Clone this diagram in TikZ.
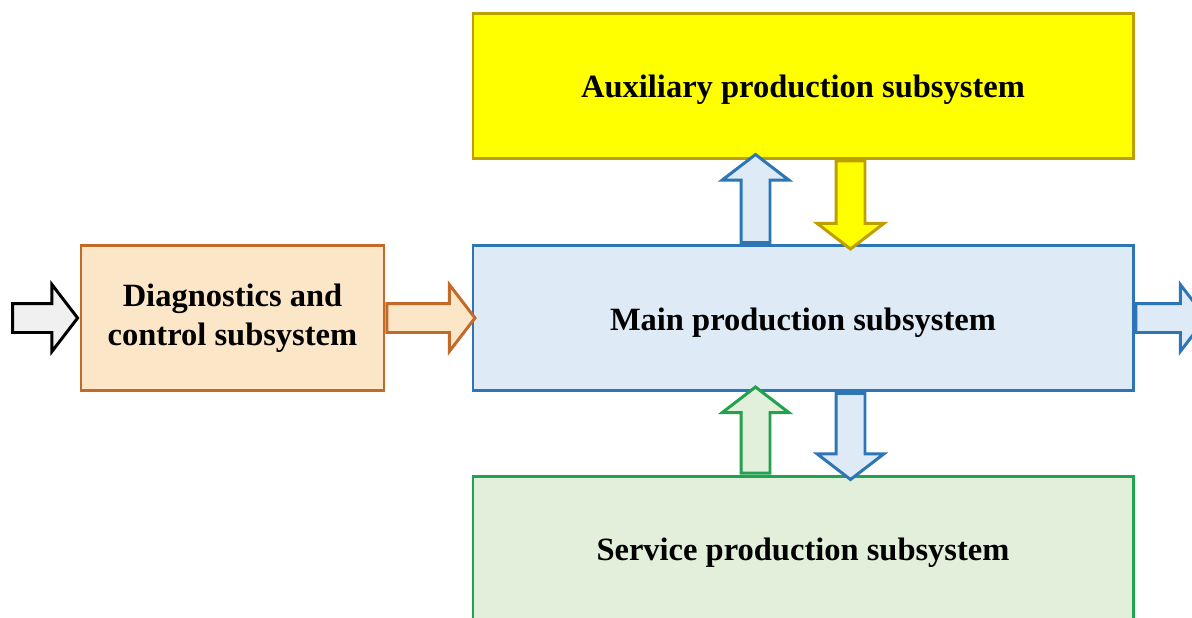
\documentclass[tikz,border=0pt]{standalone}
\usepackage{fontspec}
\setmainfont{Liberation Serif}
\usetikzlibrary{shapes.arrows}

\definecolor{auxfill}{HTML}{FFFF00}
\definecolor{auxline}{HTML}{BF9F00}
\definecolor{mainfill}{HTML}{DEEBF7}
\definecolor{mainline}{HTML}{2E75B6}
\definecolor{servfill}{HTML}{E2EFDA}
\definecolor{servline}{HTML}{22A24E}
\definecolor{diagfill}{HTML}{FCE6C8}
\definecolor{diagline}{HTML}{C46A28}
\definecolor{infill}{HTML}{F0F0F0}

\begin{document}
\begin{tikzpicture}[
    box/.style={draw, line width=1.7pt, minimum width=13.2cm, minimum height=2.9cm,
        align=center, font=\fontsize{18.5}{22.5}\selectfont\bfseries},
    fatarrow/.style={single arrow, draw, line width=1.7pt, inner xsep=0pt, inner ysep=0.26cm,
        minimum width=1.3cm, single arrow head extend=0.38cm,
        single arrow tip angle=105}
]

    \useasboundingbox (0,0) rectangle (23.84,-12.34);
    \clip (0,0) rectangle (23.84,-12.34);

    \node[box, draw=auxline, fill=auxfill, text height=18pt] (aux) at (16.06,-1.71) {Auxiliary production subsystem};
    \node[box, draw=mainline, fill=mainfill, text height=18pt] (main) at (16.06,-6.36) {Main production subsystem};
    \node[box, draw=servline, fill=servfill, text height=18pt] (serv) at (16.06,-10.97) {Service production subsystem};
    \node[box, draw=diagline, fill=diagfill, minimum width=6.06cm] (diag) at (4.65,-6.36)
        {Diagnostics and\\control subsystem};

    % horizontal arrows
    \node[fatarrow, draw=black, fill=infill, anchor=tip, minimum height=1.3cm] (input) at (diag.west) {};
    \node[fatarrow, draw=diagline, fill=diagfill, anchor=tail, minimum height=1.76cm] (control) at (diag.east) {};
    \node[fatarrow, draw=mainline, fill=mainfill, anchor=tail, minimum height=1.4cm] (output) at (main.east) {};

    % vertical arrows
    \node[fatarrow, draw=mainline, fill=mainfill, rotate=90, anchor=tail, minimum height=1.76cm]
        (mainup) at ([xshift=-0.95cm]main.north) {};
    \node[fatarrow, draw=auxline, fill=auxfill, rotate=-90, anchor=tail, minimum height=1.76cm]
        (auxdown) at ([xshift=0.95cm]aux.south) {};
    \node[fatarrow, draw=servline, fill=servfill, rotate=90, anchor=tail, minimum height=1.72cm]
        (servup) at ([xshift=-0.95cm]serv.north) {};
    \node[fatarrow, draw=mainline, fill=mainfill, rotate=-90, anchor=tail, minimum height=1.72cm]
        (maindown) at ([xshift=0.95cm]main.south) {};

\end{tikzpicture}
\end{document}
